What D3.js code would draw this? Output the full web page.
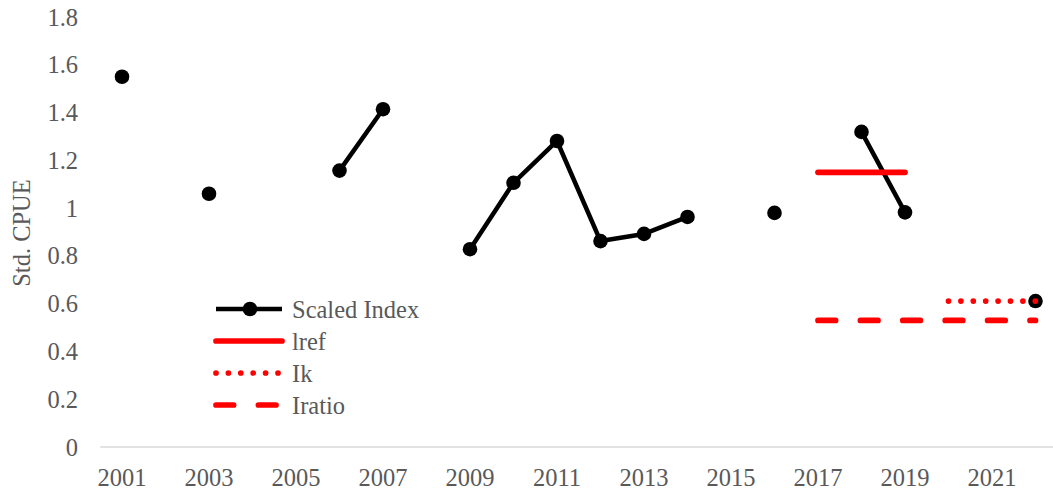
<!DOCTYPE html>
<html><head><meta charset="utf-8">
<script src="https://cdn.jsdelivr.net/npm/d3@7"></script>
<style>html,body{margin:0;padding:0;background:#fff;overflow:hidden}</style>
</head><body><svg id="c" width="1053" height="493"></svg>
<script>
const years = [2001,2002,2003,2004,2005,2006,2007,2008,2009,2010,2011,2012,2013,2014,2015,2016,2017,2018,2019,2020,2021,2022];
const scaledIndex = [1.55,null,1.06,null,null,1.157,1.414,null,0.828,1.106,1.281,0.862,0.892,0.963,null,0.98,null,1.319,0.982,null,null,0.611];
const iref   = [null,null,null,null,null,null,null,null,null,null,null,null,null,null,null,null,1.15,1.15,1.15,null,null,null];
const ik     = [null,null,null,null,null,null,null,null,null,null,null,null,null,null,null,null,null,null,null,0.611,0.611,0.611];
const iratio = [null,null,null,null,null,null,null,null,null,null,null,null,null,null,null,null,0.53,0.53,0.53,0.53,0.53,0.53];
const yTicks = [0,0.2,0.4,0.6,0.8,1,1.2,1.4,1.6,1.8];
const xTickLabels = [2001,2003,2005,2007,2009,2011,2013,2015,2017,2019,2021];
const seriesNames = ["Scaled Index","Iref","Ik","Iratio"];
const legendLabels = ["Scaled Index","lref","Ik","Iratio"];

const svg = d3.select("#c");
const FONT = "'Liberation Serif', serif";
const GREY = "#595959";

const x = d3.scalePoint().domain(years).range([100.25, 1057.25]).padding(0.5);
const y = d3.scaleLinear().domain([0,1.8]).range([447,17]);

// baseline
svg.append("line").attr("x1",x.range()[0]).attr("x2",1053).attr("y1",y(0)).attr("y2",y(0))
  .attr("stroke","#d9d9d9").attr("stroke-width",1.3);

// y tick labels
svg.append("g").selectAll("text").data(yTicks).join("text")
  .attr("x",78).attr("y",d=>y(d)).attr("dy","0.35em").attr("text-anchor","end")
  .attr("font-family",FONT).attr("font-size",24.5).attr("fill",GREY).text(d=>d);

// x tick labels
svg.append("g").selectAll("text").data(xTickLabels).join("text")
  .attr("x",d=>x(d)).attr("y",486).attr("text-anchor","middle")
  .attr("font-family",FONT).attr("font-size",24.5).attr("fill",GREY).text(d=>d);

// y title
svg.append("text").attr("transform","translate(30,233) rotate(-90)").attr("text-anchor","middle")
  .attr("font-family",FONT).attr("font-size",24.5).attr("fill",GREY).text("Std. CPUE");

const pts = arr => years.map((yr,i)=>({yr, v:arr[i]}));
const line = d3.line().defined(d=>d.v!=null).x(d=>x(d.yr)).y(d=>y(d.v));

// Scaled index
const sd = pts(scaledIndex);
svg.append("path").attr("d",line(sd)).attr("fill","none").attr("stroke","#000")
  .attr("stroke-width",4.5).attr("stroke-linejoin","round");
svg.append("g").selectAll("circle").data(sd.filter(d=>d.v!=null)).join("circle")
  .attr("cx",d=>x(d.yr)).attr("cy",d=>y(d.v)).attr("r",7.3).attr("fill","#000");

// red series
const redStyles = [
  {data: iref, dash: null},
  {data: ik, dash: "0,12.4"},
  {data: iratio, dash: "17.6,24.8"}
];
redStyles.forEach(s=>{
  svg.append("path").attr("d",line(pts(s.data))).attr("fill","none").attr("stroke","#ff0000")
    .attr("stroke-width",5.7).attr("stroke-linecap","round")
    .attr("stroke-dasharray",s.dash);
});

// legend
const lg = svg.append("g");
const rowsY = [309,341,373,405];
legendLabels.forEach((lab,i)=>{
  const ly = rowsY[i];
  const l = lg.append("line").attr("x1",216).attr("x2",282).attr("y1",ly).attr("y2",ly)
    .attr("fill","none");
  if(i===0){
    l.attr("stroke","#000").attr("stroke-width",4.5);
    lg.append("circle").attr("cx",250).attr("cy",ly).attr("r",7.3).attr("fill","#000");
  } else {
    l.attr("stroke","#ff0000").attr("stroke-width",5.7).attr("stroke-linecap","round");
    if(i===2) l.attr("stroke-dasharray","0,12.4");
    if(i===3) l.attr("stroke-dasharray","17.6,24.8");
  }
  lg.append("text").attr("x",292).attr("y",ly).attr("dy","0.35em")
    .attr("font-family",FONT).attr("font-size",24.5).attr("fill",GREY).text(lab);
});
</script></body></html>
